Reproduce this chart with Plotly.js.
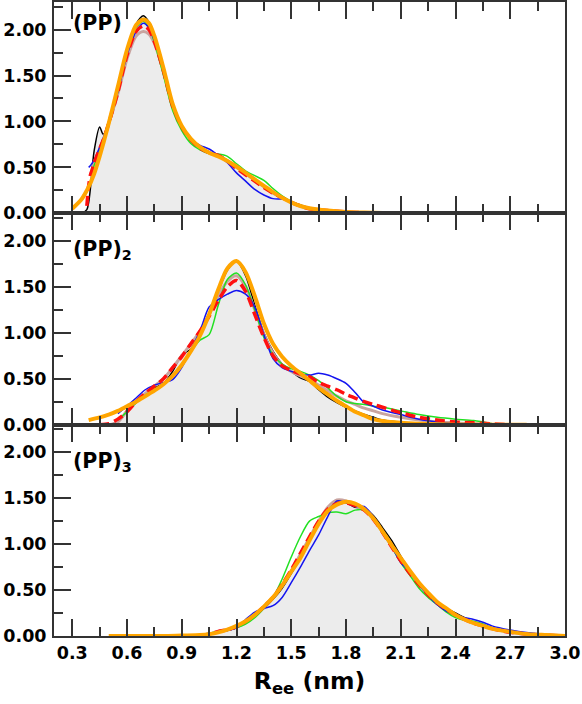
<!DOCTYPE html>
<html>
<head>
<meta charset="utf-8">
<script src="https://cdn.plot.ly/plotly-3.0.1.min.js"></script>
<style>html,body{margin:0;padding:0;background:#fff;}#chart{width:582px;height:704px;}</style>
</head>
<body>
<div id="chart"></div>
<script>
// ---------- Panel labels ----------
const panelLabels = ['(PP)', '(PP)<sub>2</sub>', '(PP)<sub>3</sub>'];
const xTickVals = [0.3,0.6,0.9,1.2,1.5,1.8,2.1,2.4,2.7,3.0];
const yTickVals = [0,0.5,1,1.5,2];

// ---------- Panel 1: (PP) ----------
const p1x = [0.30,0.35,0.38,0.39,0.40,0.41,0.42,0.45,0.47,0.50,0.55,0.60,0.65,0.69,0.72,0.75,0.80,0.85,0.90,0.95,1.00,1.05,1.10,1.15,1.20,1.25,1.30,1.35,1.40,1.45,1.50,1.55,1.60,1.70,1.80,1.90,2.00,2.10];
const p1Black  = [0,0,0.04,0.12,0.28,0.50,0.68,0.94,0.86,0.97,1.30,1.74,2.06,2.15,2.08,1.92,1.56,1.17,0.94,0.80,0.71,0.66,0.63,0.58,0.51,0.44,0.37,0.30,0.23,0.17,0.12,0.08,0.05,0.03,0.015,0.005,0,null];
const p1Brown  = [null,null,null,null,0.42,0.48,0.55,0.70,0.80,0.98,1.30,1.68,1.93,1.98,1.95,1.85,1.54,1.16,0.94,0.80,0.71,0.66,0.63,0.57,0.50,0.43,0.36,0.29,0.22,0.17,0.12,0.08,0.05,0.03,0.015,0.005,null,null];
const p1Green  = [null,null,null,null,null,0.45,0.52,0.68,0.79,0.98,1.33,1.75,2.02,2.09,2.02,1.86,1.50,1.12,0.90,0.76,0.69,0.65,0.645,0.62,0.54,0.46,0.41,0.36,0.27,0.19,0.13,0.09,0.06,0.03,0.02,0.01,null,null];
const p1Blue   = [null,null,null,0.50,0.52,0.55,0.58,0.72,0.82,1.00,1.32,1.72,1.98,2.07,2.02,1.88,1.56,1.18,0.96,0.80,0.74,0.70,0.63,0.55,0.44,0.35,0.26,0.20,0.16,0.155,0.13,0.09,0.06,0.03,0.02,0.01,null,null];
const p1Red    = [null,null,0.08,0.30,0.42,0.48,0.55,0.70,0.80,0.98,1.32,1.72,1.98,2.04,2.00,1.87,1.55,1.17,0.94,0.80,0.71,0.66,0.63,0.57,0.49,0.42,0.35,0.28,0.22,0.17,0.12,0.08,0.05,0.03,0.015,0.005,null,null];
const p1Orange = [0.05,0.15,0.25,0.29,0.33,0.38,0.43,0.62,0.76,0.98,1.38,1.78,2.05,2.11,2.07,1.93,1.58,1.19,0.95,0.81,0.72,0.66,0.62,0.57,0.51,0.44,0.37,0.30,0.23,0.17,0.12,0.08,0.055,0.03,0.015,0.008,0.003,0];

// ---------- Panel 2: (PP)2 ----------
const p2x = [0.39,0.45,0.50,0.55,0.60,0.65,0.70,0.75,0.80,0.85,0.90,0.95,1.00,1.05,1.10,1.15,1.20,1.25,1.30,1.35,1.40,1.45,1.50,1.55,1.60,1.65,1.70,1.75,1.80,1.85,1.90,1.95,2.00,2.10,2.20,2.30,2.40,2.50,2.60,2.70,2.79];
const p2Black  = [null,null,0.00,0.03,0.15,0.24,0.33,0.40,0.45,0.58,0.76,0.82,0.97,1.20,1.45,1.68,1.78,1.62,1.30,1.00,0.80,0.66,0.58,0.51,0.47,0.38,0.30,0.24,0.19,0.15,0.11,0.08,0.05,0.025,0.01,0.005,0,null,null,null,null];
const p2Brown  = [null,null,0.00,0.03,0.15,0.25,0.34,0.42,0.50,0.62,0.75,0.88,1.02,1.20,1.40,1.56,1.62,1.50,1.25,0.98,0.78,0.65,0.58,0.53,0.49,0.43,0.37,0.31,0.26,0.22,0.18,0.15,0.12,0.08,0.05,0.03,0.02,0.01,0.005,null,null];
const p2Green  = [null,null,null,0.05,0.14,0.24,0.32,0.38,0.44,0.52,0.66,0.80,0.92,0.98,1.30,1.58,1.65,1.52,1.25,0.95,0.76,0.66,0.61,0.58,0.54,0.48,0.40,0.31,0.25,0.23,0.22,0.20,0.19,0.15,0.11,0.08,0.06,0.045,0.01,null,null];
const p2Blue   = [null,null,null,0.12,0.20,0.29,0.38,0.43,0.46,0.49,0.62,0.82,1.02,1.28,1.36,1.42,1.46,1.42,1.28,0.98,0.72,0.62,0.58,0.55,0.54,0.56,0.54,0.50,0.45,0.35,0.24,0.20,0.16,0.11,0.06,0.03,0.01,null,null,null,null];
const p2Red    = [null,0.00,0.01,0.06,0.14,0.25,0.34,0.42,0.50,0.62,0.74,0.88,1.02,1.18,1.35,1.50,1.57,1.45,1.20,0.95,0.75,0.64,0.59,0.55,0.52,0.46,0.42,0.38,0.33,0.29,0.25,0.22,0.19,0.13,0.08,0.05,0.03,0.02,0.01,0.00,null];
const p2Orange = [0.05,0.08,0.11,0.15,0.20,0.25,0.31,0.37,0.44,0.53,0.65,0.80,0.97,1.20,1.47,1.70,1.78,1.66,1.40,1.10,0.88,0.74,0.64,0.56,0.48,0.40,0.33,0.26,0.20,0.14,0.10,0.06,0.04,0.02,0.01,0.005,0,0,0,0,0];

// ---------- Panel 3: (PP)3 ----------
const p3x = [0.50,0.60,0.70,0.80,0.90,1.00,1.05,1.10,1.15,1.20,1.25,1.30,1.35,1.40,1.45,1.50,1.55,1.60,1.65,1.70,1.75,1.80,1.85,1.90,1.95,2.00,2.05,2.10,2.15,2.20,2.25,2.30,2.35,2.40,2.45,2.50,2.55,2.60,2.70,2.80,2.90,3.00];
const p3Black  = [null,null,null,null,null,0.01,0.02,0.04,0.06,0.09,0.15,0.22,0.30,0.40,0.52,0.68,0.85,1.03,1.22,1.38,1.47,1.45,1.40,1.39,1.31,1.18,1.04,0.87,0.71,0.57,0.46,0.37,0.30,0.25,0.20,0.15,0.12,0.09,0.045,0.02,0.01,null];
const p3Brown  = [null,null,null,null,null,0.01,0.02,0.05,0.07,0.10,0.16,0.23,0.32,0.42,0.55,0.71,0.89,1.07,1.25,1.40,1.48,1.47,1.42,1.37,1.27,1.13,0.98,0.83,0.69,0.56,0.45,0.36,0.29,0.23,0.18,0.14,0.11,0.08,0.04,0.02,0.01,0];
const p3Green  = [null,null,null,null,null,0.02,0.03,0.05,0.07,0.09,0.13,0.20,0.30,0.42,0.62,0.86,1.08,1.25,1.30,1.34,1.35,1.33,1.37,1.37,1.28,1.12,0.97,0.80,0.66,0.52,0.42,0.34,0.26,0.20,0.17,0.16,0.13,0.09,0.045,0.02,0.01,null];
const p3Blue   = [null,null,null,null,null,0.01,0.02,0.04,0.06,0.09,0.18,0.26,0.30,0.33,0.42,0.58,0.75,0.93,1.10,1.30,1.47,1.45,1.41,1.41,1.30,1.15,0.98,0.80,0.70,0.56,0.44,0.34,0.27,0.23,0.20,0.18,0.15,0.11,0.065,0.035,0.015,null];
const p3Red    = [null,null,null,null,null,0.01,0.02,0.05,0.07,0.10,0.16,0.23,0.32,0.42,0.56,0.72,0.90,1.08,1.25,1.38,1.44,1.45,1.42,1.37,1.27,1.13,0.97,0.82,0.68,0.56,0.45,0.36,0.29,0.23,0.18,0.14,0.11,0.08,0.04,0.02,0.01,0];
const p3Orange = [0,0,0,0,0.005,0.01,0.02,0.04,0.07,0.11,0.16,0.23,0.32,0.42,0.55,0.70,0.85,1.04,1.22,1.36,1.43,1.46,1.44,1.38,1.28,1.14,0.99,0.85,0.71,0.58,0.47,0.37,0.30,0.23,0.18,0.14,0.11,0.08,0.045,0.02,0.01,0];

const panels = [
  {x:p1x, black:p1Black, brown:p1Brown, green:p1Green, blue:p1Blue, red:p1Red, orange:p1Orange},
  {x:p2x, black:p2Black, brown:p2Brown, green:p2Green, blue:p2Blue, red:p2Red, orange:p2Orange},
  {x:p3x, black:p3Black, brown:p3Brown, green:p3Green, blue:p3Blue, red:p3Red, orange:p3Orange}
];

const styles = [
  {key:'black',  line:{color:'#000000', width:1.5}},
  {key:'brown',  line:{color:'#c9a4a0', width:3}},
  {key:'green',  line:{color:'#22e022', width:1.5}},
  {key:'blue',   line:{color:'#1414f0', width:1.5}},
  {key:'red',    line:{color:'#ff1010', width:3.5, dash:'10px,5px'}},
  {key:'orange', line:{color:'#ffa500', width:4}}
];

const traces = [];
panels.forEach((p, i) => {
  const sfx = i === 0 ? '' : String(i + 1);
  traces.push({x:p.x, y:p.black, xaxis:'x'+sfx, yaxis:'y'+sfx, mode:'lines',
    line:{width:0, shape:'spline', smoothing:0.8}, fill:'tozeroy', fillcolor:'#ececec',
    hoverinfo:'skip', showlegend:false});
  styles.forEach(s => {
    traces.push({x:p.x, y:p[s.key], xaxis:'x'+sfx, yaxis:'y'+sfx, mode:'lines',
      line:Object.assign({shape:'spline', smoothing:0.8}, s.line), showlegend:false});
  });
});

const tickFont = {family:'DejaVu Sans, Arial, sans-serif', size:17.5, color:'#000', weight:'bold'};
function xAxis(anchor, labels) {
  return {
    anchor:anchor, domain:[0,1], range:[0.2,3.0], tickvals:xTickVals, tickformat:'.1f',
    ticks:'inside', ticklen:17, tickwidth:2, tickcolor:'#333',
    showline:true, linecolor:'#333', linewidth:2, mirror:'ticks',
    showgrid:false, zeroline:false, showticklabels:labels, tickfont:tickFont,
    minor:{dtick:0.15, tick0:0.15, ticks:'inside', ticklen:9, tickwidth:2, tickcolor:'#333', showgrid:false}
  };
}
function yAxis(anchor, domain) {
  return {
    anchor:anchor, domain:domain, range:[0,2.3], tickvals:yTickVals, tickformat:'.2f',
    ticks:'inside', ticklen:17, tickwidth:2, tickcolor:'#333',
    showline:true, linecolor:'#333', linewidth:2, mirror:true,
    showgrid:false, zeroline:false, tickfont:tickFont, ticklabelstandoff:2,
    minor:{dtick:0.25, tick0:0, ticks:'inside', ticklen:9, tickwidth:2, tickcolor:'#333', showgrid:false}
  };
}

const x3 = xAxis('y3', true);
x3.title = {text:'R<sub>ee</sub> (nm)', font:{family:'DejaVu Sans, Arial, sans-serif', size:23.5, color:'#000', weight:'bold'}, standoff:11};

const annFont = {family:'DejaVu Sans, Arial, sans-serif', size:20.5, color:'#000', weight:'bold'};
const annTopPx = [9, 235, 447];
const annotations = panelLabels.map((t, i) => ({
  text:t, xref:'paper', yref:'paper', x:0.033, y:(636 - annTopPx[i]) / 634,
  xanchor:'left', yanchor:'top', showarrow:false, font:annFont
}));

const layout = {
  width:582, height:704,
  margin:{l:54, r:17, t:2, b:68},
  paper_bgcolor:'#fff', plot_bgcolor:'#fff',
  showlegend:false,
  xaxis:xAxis('y', false),
  yaxis:yAxis('x', [2/3, 1]),
  xaxis2:xAxis('y2', false),
  yaxis2:yAxis('x2', [1/3, 2/3]),
  xaxis3:x3,
  yaxis3:yAxis('x3', [0, 1/3]),
  annotations:annotations
};

Plotly.newPlot('chart', traces, layout, {displayModeBar:false, staticPlot:true});
</script>
</body>
</html>
